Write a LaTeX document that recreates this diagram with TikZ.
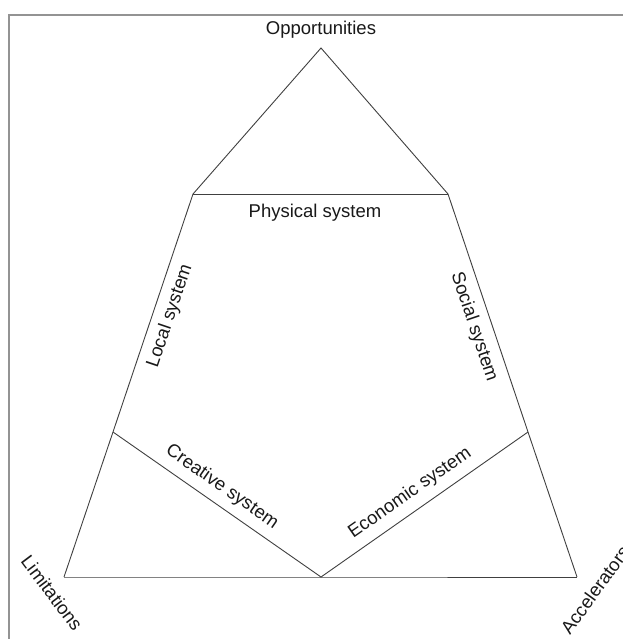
\documentclass[tikz,border=0pt]{standalone}
\usepackage{fontspec}
\setmainfont{Liberation Sans}
\begin{document}
\begin{tikzpicture}[x=1pt,y=-1pt,
  edge/.style={draw=black!75,line width=0.9pt},
  lbl/.style={font=\fontsize{18.5}{20}\selectfont,inner sep=0pt,text=black!90}]
\useasboundingbox (0,0) rectangle (622,639);
\fill[white] (0,0) rectangle (622,639);
\draw[gray!85,line width=2.2pt] (9,645) -- (9,15) -- (630,15);
\coordinate (A) at (321,48);
\coordinate (TL) at (193,194);
\coordinate (TR) at (448,194);
\coordinate (ML) at (113,432);
\coordinate (MR) at (528,432);
\coordinate (BL) at (64,577);
\coordinate (BM) at (321,577);
\coordinate (BR) at (577,577);
\draw[edge] (TL) -- (A) -- (TR);
\draw[edge] (TL) -- (TR);
\draw[edge] (TL) -- (ML) -- (BL);
\draw[edge] (TR) -- (MR) -- (BR);
\draw[edge] (BL) -- (BM) -- (BR);
\draw[edge] (ML) -- (BM) -- (MR);
\node[lbl] (opp) at (321,30) {Opportunities};
\node[lbl] (phys) at (315,213) {Physical system};
\node[lbl,rotate=71.4] (loc) at (170,316) {Local system};
\node[lbl,rotate=-71.4] (soc) at (474,327) {Social system};
\node[lbl,rotate=-34.9] (cre) at (222,487) {Creative system};
\node[lbl,rotate=34.9] (eco) at (410,493) {Economic system};
\node[lbl,rotate=-53] (lim) at (52,593) {Limitations};
\node[lbl,rotate=54] (acc) at (595,590) {Accelerators};
\end{tikzpicture}
\end{document}
